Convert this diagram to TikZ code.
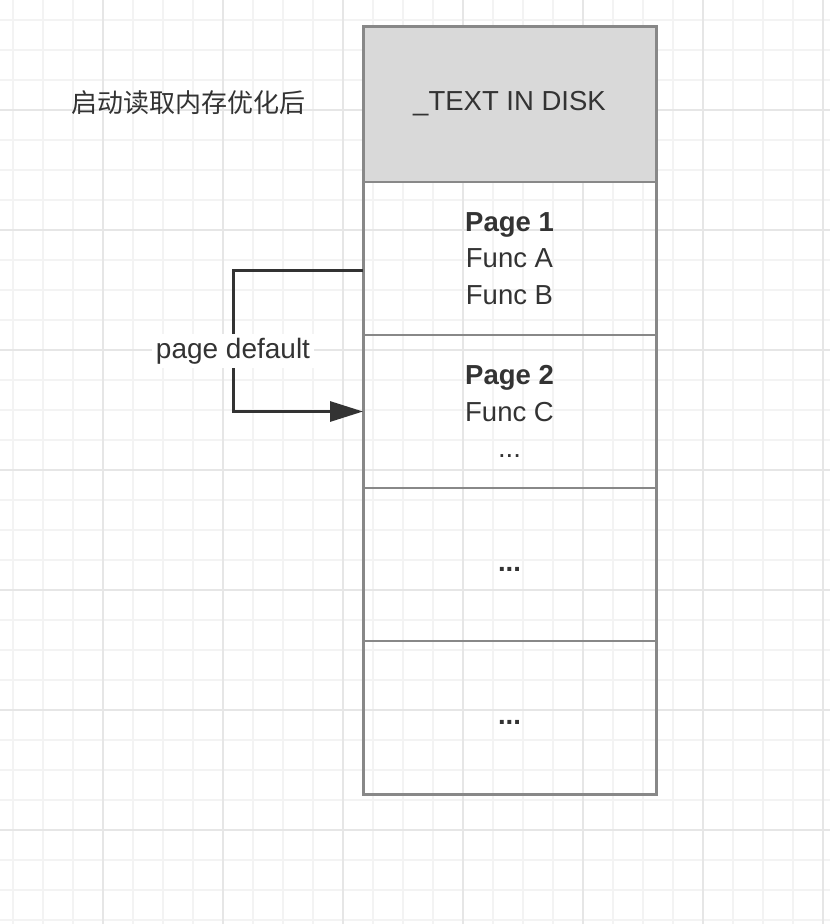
\documentclass[tikz,border=0pt]{standalone}
\usepackage{fontspec}
\setmainfont{Liberation Sans}
\newfontfamily\cjk{Noto Sans CJK SC}
\usetikzlibrary{positioning,arrows.meta}
\definecolor{gridminor}{HTML}{F3F3F3}
\definecolor{gridmajor}{HTML}{E6E6E6}
\definecolor{boxgray}{HTML}{888888}
\definecolor{headfill}{HTML}{D9D9D9}
\definecolor{ink}{HTML}{333333}
\tikzset{
  seg/.style={rectangle, draw=boxgray, line width=2pt, outer sep=0pt, minimum width=293pt, minimum height=153pt, align=center, text=ink, font=\fontsize{27.5}{36.5}\selectfont},
  head/.style={seg, fill=headfill, minimum height=156pt},
  flow/.style={-{Triangle[length=33pt,width=20pt]}, draw=ink, line width=3pt},
  lbl/.style={fill=white, text=ink, font=\fontsize{28}{30}\selectfont, inner sep=4pt}
}

\begin{document}
\begin{tikzpicture}[x=1pt,y=-1pt]
	\useasboundingbox (0,0) rectangle (830,924);
	\fill[white] (0,0) rectangle (830,924);
	% background grid
	\foreach \x in {13,43,...,823} \draw[gridminor, line width=1.5pt] (\x,0) -- (\x,924);
	\foreach \y in {20,50,...,920} \draw[gridminor, line width=1.5pt] (0,\y) -- (830,\y);
	\foreach \x in {103,223,...,823} \draw[gridmajor, line width=1.5pt] (\x,0) -- (\x,924);
	\foreach \y in {110,230,...,830} \draw[gridmajor, line width=1.5pt] (0,\y) -- (830,\y);

	\node[text=ink, font=\cjk\fontsize{26}{30}\selectfont] (title) at (188,103) {启动读取内存优化后};

	\node[head] (disk) at (509.5,104) {\_TEXT IN DISK};
	\node[seg] (page1) [below=0pt of disk] {\textbf{Page 1}\\Func A\\Func B};
	\node[seg] (page2) [below=0pt of page1] {\textbf{Page 2}\\Func C\\...};
	\node[seg] (page3) [below=0pt of page2] {\strut\textbf{...}};
	\node[seg] (page4) [below=0pt of page3] {\strut\textbf{...}};
	\draw[boxgray, line width=3pt] (disk.north west) rectangle (page4.south east);

	\draw[flow] ([yshift=-12pt]page1.west) -- ++(-130,0) |- (page2.west) node[lbl, pos=0.285] {page default};
\end{tikzpicture}
\end{document}
